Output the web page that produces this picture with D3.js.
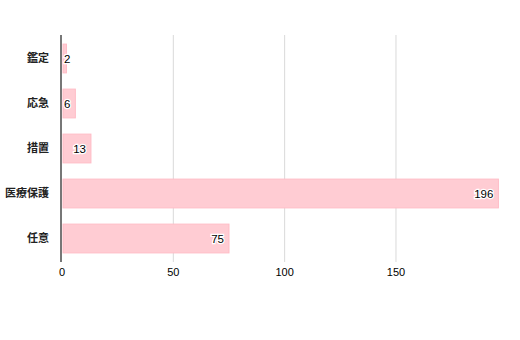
<!DOCTYPE html>
<html lang="ja">
<head>
<meta charset="UTF-8">
<title>bar</title>
<style>
    body{margin:0;background:#fff;}
    svg text{font-family:"Liberation Sans",Arial,sans-serif;}
    .cat text{font-family:"Noto Sans CJK JP",sans-serif;}
</style>
</head>
<body>
<svg width="520" height="340"></svg>
<script src="https://cdn.jsdelivr.net/npm/d3@7/dist/d3.min.js"></script>
<script>
var categories = ["鑑定", "応急", "措置", "医療保護", "任意"];
var values = [2, 6, 13, 196, 75];
var xTicks = [0, 50, 100, 150];

var svg = d3.select("svg");

var x = d3.scaleLinear().domain([0, 196]).range([62, 498.4]);
var y = d3.scaleBand().domain(categories).range([36, 261]).paddingInner(0.36).paddingOuter(0.18);

// grid
svg.append("g").selectAll("line").data(xTicks.slice(1)).enter().append("line")
    .attr("x1", function(d){return x(d)}).attr("x2", function(d){return x(d)})
    .attr("y1", 35).attr("y2", 262)
    .attr("stroke", "#d9d9d9").attr("stroke-width", 1);

// bars
svg.append("g").selectAll("rect").data(values).enter().append("rect")
    .attr("x", x(0) + 1)
    .attr("y", function(d, i){return y(categories[i])})
    .attr("width", function(d){return x(d) - x(0) - 1})
    .attr("height", y.bandwidth())
    .attr("fill", "#ffccd3").attr("stroke", "#ffbcc6").attr("stroke-width", 1);

// value labels
svg.append("g").selectAll("text").data(values).enter().append("text")
    .attr("x", function(d){return Math.max(x(d) - 5, 70.5)})
    .attr("y", function(d, i){return y(categories[i]) + y.bandwidth() / 2})
    .attr("dy", "0.35em").attr("text-anchor", "end")
    .attr("font-size", 11.5)
    .attr("stroke", "#fff").attr("stroke-width", 2.5).attr("paint-order", "stroke")
    .attr("fill", "#000")
    .text(function(d){return d});

// left axis
var cat = svg.append("g").attr("class", "cat");
cat.append("line").attr("x1", 61).attr("x2", 61).attr("y1", 35).attr("y2", 262)
    .attr("stroke", "#777").attr("stroke-width", 2);
cat.selectAll("text").data(categories).enter().append("text")
    .attr("x", 49)
    .attr("y", function(d){return y(d) + y.bandwidth() / 2})
    .attr("dy", "0.35em").attr("text-anchor", "end")
    .attr("font-size", 11).attr("font-weight", "bold").attr("fill", "#222")
    .text(function(d){return d});

// bottom tick labels
svg.append("g").selectAll("text").data(xTicks).enter().append("text")
    .attr("x", function(d){return x(d)}).attr("y", 272)
    .attr("dy", "0.35em").attr("text-anchor", "middle")
    .attr("font-size", 11).attr("fill", "#000")
    .text(function(d){return d});
</script>
</body>
</html>
